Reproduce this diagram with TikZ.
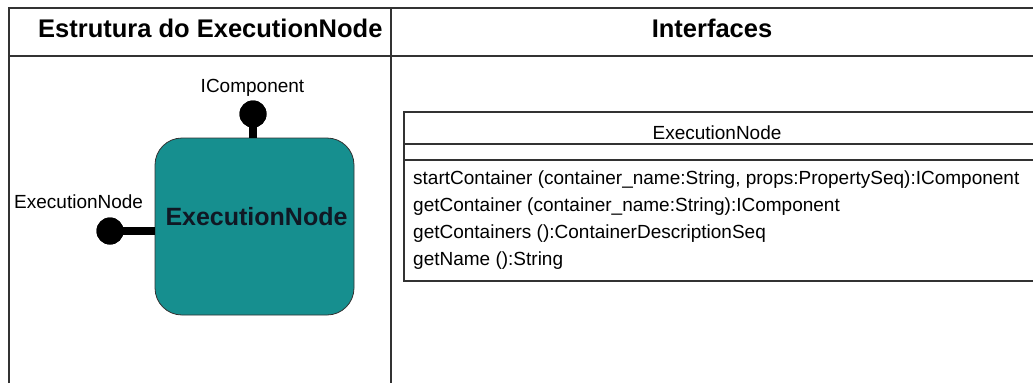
\documentclass[tikz,border=0pt]{standalone}
\usepackage{fontspec}
\setmainfont{Liberation Sans}
\definecolor{tealfill}{RGB}{22,143,143}
\definecolor{rulegray}{RGB}{50,50,50}
\definecolor{labelink}{RGB}{16,24,36}
\begin{document}
\begin{tikzpicture}[x=1pt,y=-1pt,
  rule/.style={draw=rulegray, line width=1.6pt},
  headtxt/.style={font=\fontsize{25.5}{28}\selectfont\bfseries, inner sep=0pt},
  plain/.style={font=\fontsize{19}{22}\selectfont, inner sep=0pt},
  compbox/.style={draw=rulegray, line width=0.8pt, fill=tealfill, rounded corners=27pt,
    minimum width=199pt, minimum height=177pt, inner sep=0pt},
  ball/.style={circle, fill=black, minimum size=27pt, inner sep=0pt},
  stick/.style={draw=black, line width=8pt}]
\useasboundingbox (0,0) rectangle (1033,383);
\fill[white] (0,0) rectangle (1033,383);

% table frame
\draw[rule] (9,383) -- (9,8) -- (1045,8);
\draw[rule] (9,56) -- (1045,56);
\draw[rule] (391,8) -- (391,383);

% column headers
\node[headtxt, anchor=base west] (hleft) at (38,37) {Estrutura do ExecutionNode};
\node[headtxt, anchor=base] (hright) at (712,37) {Interfaces};

% component with its two ports
\node[compbox] (comp) at (254.5,226.5) {};
\node[font=\fontsize{25}{28}\selectfont\bfseries, text=labelink, inner sep=0pt, anchor=base]
  (complabel) at (256.5,225) {ExecutionNode};
\node[ball] (topball) at (253,114) {};
\node[ball] (leftball) at (110,231) {};
\draw[stick] (topball.center) -- (topball |- comp.north);
\draw[stick] (leftball.center) -- (leftball -| comp.west);
\node[ball] at (topball) {};
\node[ball] at (leftball) {};
\node[plain, anchor=base] (toplabel) at (252.5,92) {IComponent};
\node[plain, anchor=base west] (leftlabel) at (14,208) {ExecutionNode};

% interface class box
\draw[rule] (404,112) rectangle (1045,281);
\draw[rule] (404,144) -- (1045,144);
\draw[rule] (404,160) -- (1045,160);
\node[plain, anchor=base] (clsname) at (717,139) {ExecutionNode};
\node[plain, anchor=base west] (m1) at (413,184) {startContainer (container\_name:String, props:PropertySeq):IComponent};
\node[plain, anchor=base west] (m2) at (413,211) {getContainer (container\_name:String):IComponent};
\node[plain, anchor=base west] (m3) at (413,238) {getContainers ():ContainerDescriptionSeq};
\node[plain, anchor=base west] (m4) at (413,265) {getName ():String};
\end{tikzpicture}
\end{document}
